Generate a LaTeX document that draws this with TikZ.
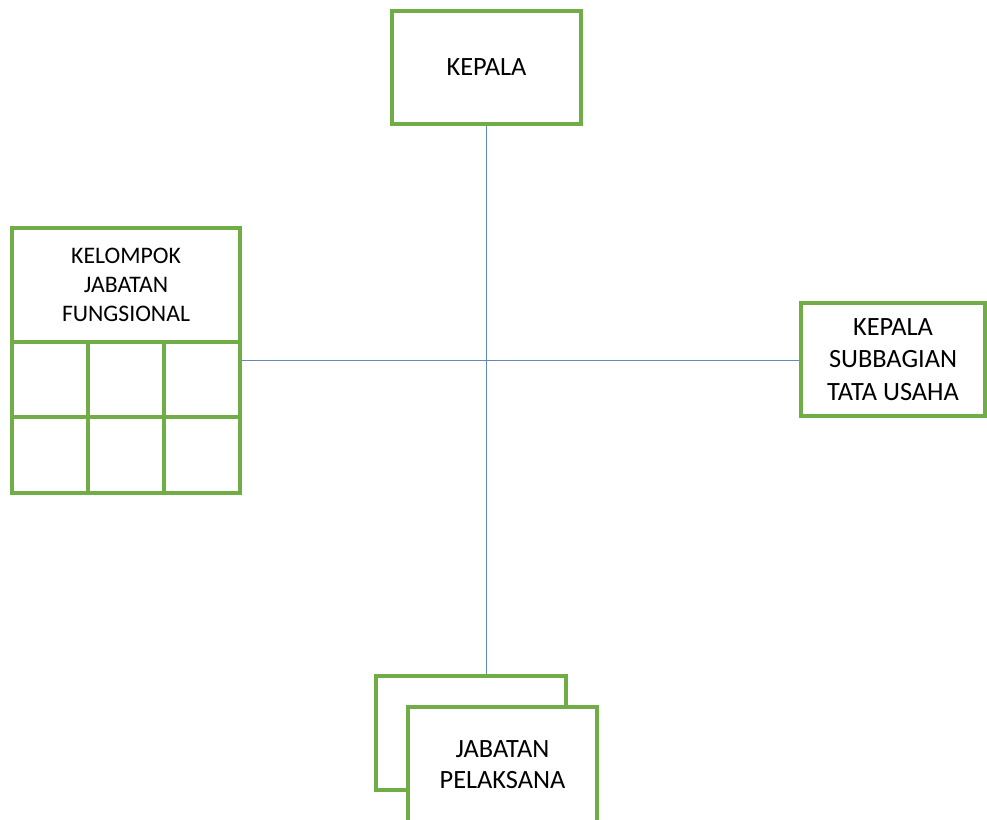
\documentclass[tikz,border=0pt]{standalone}
\usepackage{fontspec}
\setmainfont{Carlito}
\definecolor{boxgreen}{RGB}{112,173,71}
\definecolor{linkblue}{RGB}{96,135,190}
\tikzset{
  unit/.style={draw=boxgreen, line width=2.3pt, fill=white, align=center,
    inner sep=0pt, font=\fontsize{15}{18.5}\selectfont},
  link/.style={draw=linkblue, line width=0.6pt}
}
\begin{document}
\begin{tikzpicture}[x=0.02cm,y=-0.02cm]
  \useasboundingbox (0,0) rectangle (987,819);

  % top and right boxes
  \node[unit, minimum width=3.78cm, minimum height=2.26cm] (kepala) at (486.5,67.5) {KEPALA};
  \node[unit, minimum width=3.68cm, minimum height=2.26cm] (kasubbag) at (893,359.5)
      {KEPALA\\SUBBAGIAN\\TATA USAHA};

  % functional group with its grid
  \node[unit, minimum width=4.56cm, minimum height=5.30cm] (kjf) at (126,360.5) {};
  \node[align=center, font=\fontsize{13.5}{16.5}\selectfont] (kjftitle) at (126,285)
      {KELOMPOK\\JABATAN\\FUNGSIONAL};
  \foreach \y in {342,417}
     \draw[boxgreen, line width=2.3pt] (12,\y) -- (240,\y);
  \foreach \x in {88,164}
     \draw[boxgreen, line width=2.3pt] (\x,342) -- (\x,493);

  % stacked boxes at the bottom
  \node[unit, minimum width=3.80cm, minimum height=2.28cm] (pelaksanaback) at (471,733) {};
  \node[unit, minimum width=3.78cm, minimum height=2.32cm, font=\fontsize{15}{17.7}\selectfont]
      (pelaksana) at (502.5,765) {JABATAN\\PELAKSANA};

  % connectors
  \draw[link] (kepala.south) -- (kepala.south |- pelaksanaback.north);
  \draw[link] (kjf.east) -- (kjf.east -| kasubbag.west);
\end{tikzpicture}
\end{document}
